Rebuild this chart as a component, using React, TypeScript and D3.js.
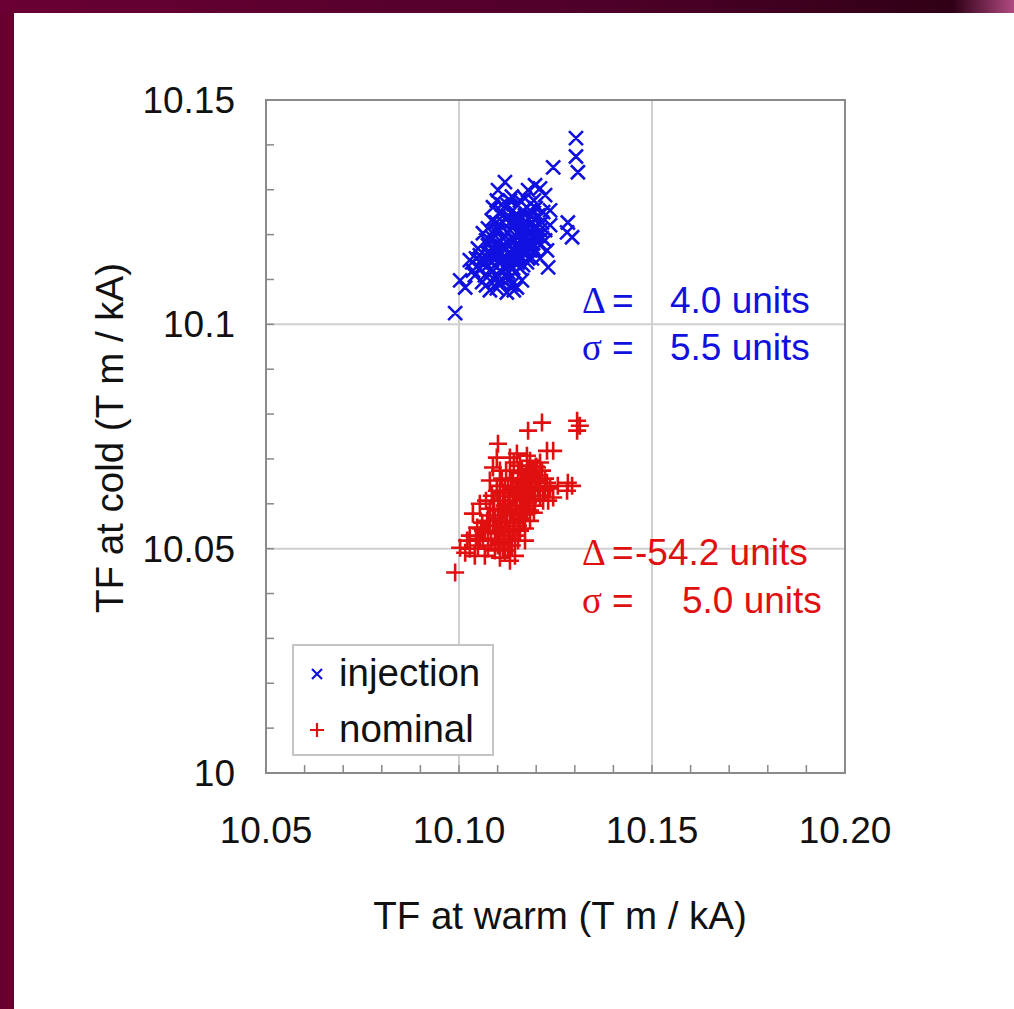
import React from 'react';
import * as d3 from 'd3';

const xMajorTicks = [10.05, 10.1, 10.15, 10.2];
const xTickLabels = ['10.05', '10.10', '10.15', '10.20'];
const yMajorTicks = [10, 10.05, 10.1, 10.15];
const yTickLabels = ['10', '10.05', '10.1', '10.15'];
const xTitle = 'TF at warm (T m / kA)';
const yTitle = 'TF at cold (T m / kA)';
const seriesNames = ['injection', 'nominal'];
const deltaValues = ['4.0', '-54.2'];
const sigmaValues = ['5.5', '5.0'];

const injection: [number, number][] = [
  [10.0990, 10.1025], [10.1303, 10.1415], [10.1303, 10.1374], [10.1308, 10.1339], [10.1244, 10.1350],
  [10.1119, 10.1317], [10.1101, 10.1299], [10.1197, 10.1310], [10.1210, 10.1303], [10.1179, 10.1299],
  [10.1236, 10.1254], [10.1282, 10.1227], [10.1280, 10.1205], [10.1293, 10.1194], [10.1231, 10.1127],
  [10.1003, 10.1098], [10.1016, 10.1082], [10.1036, 10.1120], [10.1028, 10.1143], [10.1080, 10.1076],
  [10.1124, 10.1071], [10.1150, 10.1082], [10.1062, 10.1203], [10.1085, 10.1232], [10.1088, 10.1261],
  [10.1223, 10.1288], [10.1158, 10.1276], [10.1137, 10.1285],
  [10.1106, 10.1187], [10.1119, 10.1198], [10.1132, 10.1210], [10.1145, 10.1221], [10.1158, 10.1232],
  [10.1171, 10.1243], [10.1184, 10.1254], [10.1093, 10.1165], [10.1080, 10.1154], [10.1067, 10.1138],
  [10.1054, 10.1125], [10.1041, 10.1109], [10.1119, 10.1165], [10.1132, 10.1176], [10.1145, 10.1187],
  [10.1158, 10.1198], [10.1171, 10.1210], [10.1184, 10.1221], [10.1197, 10.1232], [10.1106, 10.1143],
  [10.1119, 10.1147], [10.1132, 10.1154], [10.1145, 10.1160], [10.1158, 10.1169], [10.1171, 10.1178],
  [10.1184, 10.1187], [10.1197, 10.1198], [10.1210, 10.1210], [10.1093, 10.1132], [10.1106, 10.1120],
  [10.1119, 10.1125], [10.1132, 10.1132], [10.1145, 10.1138], [10.1158, 10.1147], [10.1171, 10.1154],
  [10.1184, 10.1165], [10.1075, 10.1176], [10.1088, 10.1192], [10.1101, 10.1210], [10.1114, 10.1227],
  [10.1127, 10.1243], [10.1140, 10.1254], [10.1153, 10.1265], [10.1166, 10.1254], [10.1179, 10.1236],
  [10.1192, 10.1214], [10.1205, 10.1243], [10.1215, 10.1227], [10.1054, 10.1154], [10.1067, 10.1109],
  [10.1093, 10.1098], [10.1106, 10.1094], [10.1132, 10.1103], [10.1145, 10.1116], [10.1158, 10.1125],
  [10.1176, 10.1138], [10.1197, 10.1165], [10.1210, 10.1176], [10.1223, 10.1187], [10.1049, 10.1169],
  [10.1070, 10.1187], [10.1096, 10.1227], [10.1111, 10.1250], [10.1132, 10.1227], [10.1150, 10.1205],
  [10.1163, 10.1183], [10.1137, 10.1192], [10.1124, 10.1183], [10.1111, 10.1174], [10.1101, 10.1160],
  [10.1153, 10.1178], [10.1168, 10.1196], [10.1181, 10.1205], [10.1085, 10.1116], [10.1119, 10.1109],
  [10.1137, 10.1089], [10.1034, 10.1138], [10.1060, 10.1094], [10.1223, 10.1210], [10.1236, 10.1221],
  [10.1202, 10.1187], [10.1189, 10.1147], [10.1127, 10.1265], [10.1145, 10.1243], [10.1171, 10.1281],
  [10.1098, 10.1276], [10.1075, 10.1214],
  [10.1062, 10.1147], [10.1075, 10.1132], [10.1088, 10.1154], [10.1098, 10.1176], [10.1114, 10.1192],
  [10.1127, 10.1205], [10.1140, 10.1218], [10.1153, 10.1236], [10.1166, 10.1221], [10.1179, 10.1203],
  [10.1192, 10.1181], [10.1205, 10.1198], [10.1114, 10.1143], [10.1127, 10.1138], [10.1140, 10.1169],
  [10.1153, 10.1154], [10.1166, 10.1165], [10.1176, 10.1176], [10.1189, 10.1196], [10.1199, 10.1214],
  [10.1080, 10.1187], [10.1091, 10.1210], [10.1106, 10.1221], [10.1119, 10.1236], [10.1135, 10.1250],
  [10.1148, 10.1232], [10.1161, 10.1214], [10.1174, 10.1227], [10.1187, 10.1243], [10.1199, 10.1259],
  [10.1073, 10.1160], [10.1083, 10.1138], [10.1096, 10.1147], [10.1109, 10.1160], [10.1122, 10.1169],
  [10.1135, 10.1183], [10.1148, 10.1196], [10.1161, 10.1187], [10.1174, 10.1165], [10.1187, 10.1178],
  [10.1101, 10.1109], [10.1114, 10.1098], [10.1127, 10.1116], [10.1140, 10.1125], [10.1153, 10.1138],
  [10.1166, 10.1132], [10.1179, 10.1147], [10.1057, 10.1138], [10.1044, 10.1147], [10.1070, 10.1087],
  [10.1098, 10.1080], [10.1142, 10.1076], [10.1163, 10.1098], [10.1215, 10.1192], [10.1228, 10.1165],
  [10.1210, 10.1147], [10.1218, 10.1250], [10.1194, 10.1276], [10.1132, 10.1276], [10.1111, 10.1267],
];

const nominal: [number, number][] = [
  [10.0990, 10.0447], [10.1306, 10.0785], [10.1313, 10.0774], [10.1306, 10.0763], [10.1215, 10.0781],
  [10.1179, 10.0763], [10.1101, 10.0734], [10.1244, 10.0718], [10.1098, 10.0703], [10.1088, 10.0681],
  [10.1282, 10.0647], [10.1280, 10.0629], [10.1293, 10.0640], [10.1244, 10.0614], [10.1003, 10.0502],
  [10.1021, 10.0518], [10.1047, 10.0547], [10.1054, 10.0600], [10.1036, 10.0578], [10.1132, 10.0473],
  [10.1106, 10.0480], [10.1132, 10.0703], [10.1150, 10.0712], [10.1184, 10.0696], [10.1228, 10.0718],
  [10.1202, 10.0681],
  [10.1106, 10.0585], [10.1119, 10.0596], [10.1132, 10.0607], [10.1145, 10.0618], [10.1158, 10.0629],
  [10.1171, 10.0640], [10.1184, 10.0652], [10.1197, 10.0663], [10.1093, 10.0562], [10.1080, 10.0551],
  [10.1067, 10.0536], [10.1054, 10.0522], [10.1119, 10.0562], [10.1132, 10.0574], [10.1145, 10.0585],
  [10.1158, 10.0596], [10.1171, 10.0607], [10.1184, 10.0618], [10.1197, 10.0629], [10.1210, 10.0640],
  [10.1106, 10.0540], [10.1119, 10.0545], [10.1132, 10.0551], [10.1145, 10.0558], [10.1158, 10.0567],
  [10.1171, 10.0576], [10.1184, 10.0585], [10.1197, 10.0596], [10.1093, 10.0522], [10.1106, 10.0513],
  [10.1119, 10.0518], [10.1132, 10.0522], [10.1145, 10.0529], [10.1158, 10.0540], [10.1075, 10.0574],
  [10.1088, 10.0589], [10.1101, 10.0607], [10.1114, 10.0625], [10.1127, 10.0640], [10.1140, 10.0656],
  [10.1153, 10.0669], [10.1166, 10.0656], [10.1179, 10.0678], [10.1192, 10.0674], [10.1205, 10.0652],
  [10.1223, 10.0656], [10.1060, 10.0558], [10.1049, 10.0507], [10.1075, 10.0500], [10.1093, 10.0496],
  [10.1119, 10.0496], [10.1137, 10.0507], [10.1153, 10.0518], [10.1171, 10.0545], [10.1210, 10.0618],
  [10.1223, 10.0629], [10.1236, 10.0634], [10.1028, 10.0500], [10.1062, 10.0540], [10.1085, 10.0618],
  [10.1106, 10.0640], [10.1122, 10.0674], [10.1137, 10.0634], [10.1150, 10.0607], [10.1163, 10.0580],
  [10.1137, 10.0589], [10.1124, 10.0580], [10.1111, 10.0574], [10.1101, 10.0551], [10.1028, 10.0529],
  [10.1016, 10.0491], [10.1041, 10.0484], [10.1067, 10.0484], [10.1158, 10.0685], [10.1176, 10.0707],
  [10.1210, 10.0692], [10.1256, 10.0640], [10.1231, 10.0607], [10.1184, 10.0562], [10.1171, 10.0518],
  [10.1145, 10.0484], [10.1080, 10.0652], [10.1106, 10.0674],
  [10.1062, 10.0518], [10.1075, 10.0536], [10.1088, 10.0551], [10.1101, 10.0567], [10.1114, 10.0585],
  [10.1127, 10.0600], [10.1140, 10.0616], [10.1153, 10.0634], [10.1166, 10.0618], [10.1179, 10.0603],
  [10.1192, 10.0611], [10.1205, 10.0629], [10.1114, 10.0529], [10.1127, 10.0536], [10.1140, 10.0562],
  [10.1153, 10.0551], [10.1166, 10.0562], [10.1176, 10.0589], [10.1189, 10.0634], [10.1199, 10.0647],
  [10.1080, 10.0589], [10.1091, 10.0607], [10.1106, 10.0618], [10.1119, 10.0629], [10.1135, 10.0652],
  [10.1148, 10.0640], [10.1161, 10.0647], [10.1174, 10.0663], [10.1187, 10.0669], [10.1199, 10.0683],
  [10.1073, 10.0562], [10.1083, 10.0518], [10.1096, 10.0540], [10.1109, 10.0551], [10.1122, 10.0558],
  [10.1135, 10.0580], [10.1148, 10.0596], [10.1161, 10.0611], [10.1174, 10.0625], [10.1187, 10.0640],
  [10.1101, 10.0507], [10.1114, 10.0500], [10.1127, 10.0507], [10.1140, 10.0540], [10.1153, 10.0574],
  [10.1166, 10.0585], [10.1179, 10.0629], [10.1057, 10.0545], [10.1044, 10.0529], [10.1070, 10.0607],
  [10.1098, 10.0629], [10.1142, 10.0692], [10.1163, 10.0674], [10.1215, 10.0674], [10.1228, 10.0647],
  [10.1210, 10.0656], [10.1218, 10.0607], [10.1194, 10.0580], [10.1132, 10.0674], [10.1111, 10.0656],
];

const BLUE = '#1010e0';
const RED = '#e01010';
const FONT = '"Liberation Sans", Arial, Helvetica, sans-serif';
const SERIF = '"Liberation Serif", "DejaVu Serif", serif';

export default function App() {
  const W = 1014, H = 1009;
  const left = 266, right = 845, top = 100, bottom = 773;
  const x = d3.scaleLinear().domain([10.05, 10.2]).range([left, right]);
  const y = d3.scaleLinear().domain([10, 10.15]).range([bottom, top]);
  const xMinor = d3.range(0, 16).map((i) => 10.05 + i * 0.01);
  const yMinor = d3.range(0, 16).map((i) => 10 + i * 0.01);

  const xMark = (cx: number, cy: number, r: number) =>
    `M${cx - r},${cy - r}L${cx + r},${cy + r}M${cx - r},${cy + r}L${cx + r},${cy - r}`;
  const plusMark = (cx: number, cy: number, r: number) =>
    `M${cx - r},${cy}L${cx + r},${cy}M${cx},${cy - r}L${cx},${cy + r}`;

  const legendX = 293, legendY = 645;

  return (
    <svg width={W} height={H} style={{ position: 'absolute', left: 0, top: 0, display: 'block' }}>
      <defs>
        <linearGradient id="topbar" x1="0" x2="1" y1="0" y2="0">
          <stop offset="0" stopColor="#6a0034" />
          <stop offset="0.6" stopColor="#4e0028" />
          <stop offset="0.94" stopColor="#300016" />
          <stop offset="1" stopColor="#b04a80" />
        </linearGradient>
      </defs>
      <rect x={0} y={0} width={W} height={H} fill="#ffffff" />
      <rect x={0} y={0} width={14} height={H} fill="#67002f" />
      <rect x={0} y={0} width={W} height={13} fill="url(#topbar)" />

      {/* grid */}
      {xMajorTicks.slice(1, -1).map((t) => (
        <line key={'gx' + t} x1={x(t)} x2={x(t)} y1={top} y2={bottom} stroke="#d0d0d0" strokeWidth={2} />
      ))}
      {yMajorTicks.slice(1, -1).map((t) => (
        <line key={'gy' + t} x1={left} x2={right} y1={y(t)} y2={y(t)} stroke="#d0d0d0" strokeWidth={2} />
      ))}

      {/* minor ticks */}
      {xMinor.map((t, i) => (
        <line key={'tx' + i} x1={x(t)} x2={x(t)} y1={bottom} y2={bottom - 8} stroke="#888" strokeWidth={1.5} />
      ))}
      {yMinor.map((t, i) => (
        <line key={'ty' + i} x1={left} x2={left + 8} y1={y(t)} y2={y(t)} stroke="#888" strokeWidth={1.5} />
      ))}

      {/* frame */}
      <rect x={left} y={top} width={right - left} height={bottom - top} fill="none" stroke="#8a8a8a" strokeWidth={2} />

      {/* points */}
      <path
        d={injection.map(([a, b]) => xMark(x(a), y(b), 7)).join('')}
        stroke={BLUE}
        strokeWidth={2.6}
        fill="none"
      />
      <path
        d={nominal.map(([a, b]) => plusMark(x(a), y(b), 9)).join('')}
        stroke={RED}
        strokeWidth={2.6}
        fill="none"
      />

      {/* tick labels */}
      {xMajorTicks.map((t, i) => (
        <text key={'lx' + i} x={x(t)} y={843} fontSize={37} fontFamily={FONT} textAnchor="middle" fill="#111">
          {xTickLabels[i]}
        </text>
      ))}
      {yMajorTicks.map((t, i) => (
        <text key={'ly' + i} x={235} y={y(t) + 13} fontSize={37} fontFamily={FONT} textAnchor="end" fill="#111">
          {yTickLabels[i]}
        </text>
      ))}

      {/* axis titles */}
      <text x={560} y={929} fontSize={38.5} fontFamily={FONT} textAnchor="middle" fill="#111">
        {xTitle}
      </text>
      <text transform={`translate(123,438) rotate(-90)`} fontSize={38.5} fontFamily={FONT} textAnchor="middle" fill="#111">
        {yTitle}
      </text>

      {/* annotations */}
      <g fontSize={37} fill={BLUE}>
        <text x={582} y={313} fontFamily={SERIF}>Δ</text>
        <text x={612} y={313} fontFamily={FONT}>=</text>
        <text x={670} y={313} fontFamily={FONT}>{deltaValues[0] + ' units'}</text>
        <text x={582} y={360} fontFamily={SERIF}>σ</text>
        <text x={612} y={360} fontFamily={FONT}>=</text>
        <text x={670} y={360} fontFamily={FONT}>{sigmaValues[0] + ' units'}</text>
      </g>
      <g fontSize={37} fill={RED}>
        <text x={582} y={565} fontFamily={SERIF}>Δ</text>
        <text x={612} y={565} fontFamily={FONT}>=</text>
        <text x={635} y={565} fontFamily={FONT}>{deltaValues[1] + ' units'}</text>
        <text x={582} y={613} fontFamily={SERIF}>σ</text>
        <text x={612} y={613} fontFamily={FONT}>=</text>
        <text x={682} y={613} fontFamily={FONT}>{sigmaValues[1] + ' units'}</text>
      </g>

      {/* legend */}
      <rect x={legendX} y={legendY} width={200} height={110} fill="#fff" stroke="#c4c4c4" strokeWidth={2} />
      <path d={xMark(legendX + 24, legendY + 29, 5)} stroke={BLUE} strokeWidth={2.2} fill="none" />
      <path d={plusMark(legendX + 24, legendY + 85, 7)} stroke={RED} strokeWidth={2.2} fill="none" />
      <text x={legendX + 46} y={legendY + 41} fontSize={38.5} fontFamily={FONT} fill="#111">{seriesNames[0]}</text>
      <text x={legendX + 46} y={legendY + 97} fontSize={38.5} fontFamily={FONT} fill="#111">{seriesNames[1]}</text>
    </svg>
  );
}
